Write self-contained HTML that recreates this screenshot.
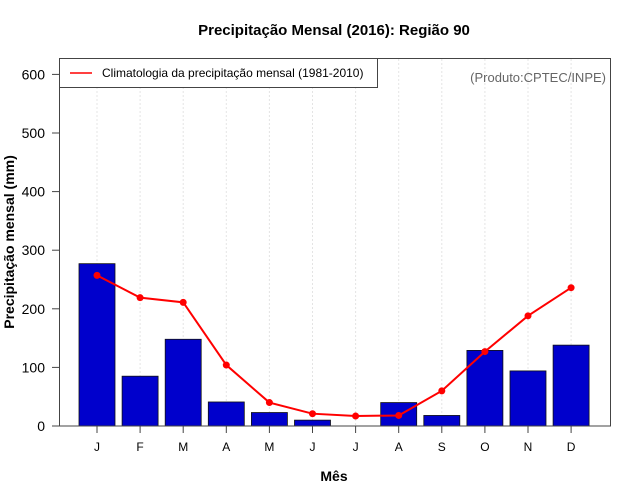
<!DOCTYPE html>
<html><head><meta charset="utf-8"><style>
body{margin:0;background:#fff}
svg{display:block;font-family:"Liberation Sans",sans-serif}
</style></head><body>
<svg id="chart" width="640" height="500" viewBox="0 0 640 500">
<text x="334" y="35" text-anchor="middle" font-size="15" font-weight="bold">Precipitação Mensal (2016): Região 90</text>
<g id="grid"></g>
<g id="bars"></g>
<g id="line"></g>
<g id="axes"></g>
<rect x="59.5" y="58.5" width="551" height="367.5" fill="none" stroke="#444" stroke-width="1"/>
<g>
<rect x="59.5" y="58.5" width="318" height="29" fill="#fff" stroke="#444"/>
<line x1="70" y1="73" x2="92" y2="73" stroke="red" stroke-width="1.5"/>
<text x="102" y="77" font-size="12">Climatologia da precipitação mensal (1981-2010)</text>
</g>
<text x="606" y="82" text-anchor="end" font-size="13" fill="#666">(Produto:CPTEC/INPE)</text>
<text x="334" y="481" text-anchor="middle" font-size="14" font-weight="bold">Mês</text>
<text transform="translate(14,242) rotate(-90)" text-anchor="middle" font-size="14" font-weight="bold">Precipitação mensal (mm)</text>
</svg>
<script>
const months = ["J","F","M","A","M","J","J","A","S","O","N","D"];
const observed = [277, 85, 148, 41, 23, 10, 0, 40, 18, 129, 94, 138];
const climatology = [257, 219, 211, 104, 40, 21, 17, 18, 60, 127, 188, 236];
const yTicks = [0, 100, 200, 300, 400, 500, 600];
const NS = "http://www.w3.org/2000/svg";
const x = i => 97 + i * 43.1;
const y = v => 426 - v * 0.586;
function mk(tag, attrs, parent) {
  const e = document.createElementNS(NS, tag);
  for (const k in attrs) e.setAttribute(k, attrs[k]);
  document.getElementById(parent).appendChild(e);
  return e;
}
months.forEach((m, i) => {
  const g = mk("line", {x1: x(i), x2: x(i), y1: 59, y2: 426, stroke: "#e4e4e4", "stroke-dasharray": "2,2"}, "grid");
  
  
  const b = mk("rect", {x: x(i) - 18, y: y(observed[i]), width: 36, height: 426 - y(observed[i]), fill: "#0000cc", stroke: "#111", "stroke-width": 0.8}, "bars");
  
  
  const t = mk("line", {x1: x(i), x2: x(i), y1: 426, y2: 433, stroke: "#444"}, "axes");
  
  
  const l = mk("text", {x: x(i), y: 451, "text-anchor": "middle", "font-size": 12}, "axes");
  l.textContent = m;
  
  
});
const pl = mk("polyline", {points: climatology.map((v, i) => x(i) + "," + y(v)).join(" "), fill: "none", stroke: "red", "stroke-width": 2}, "line");


climatology.forEach((v, i) => {
  const c = mk("circle", {cx: x(i), cy: y(v), r: 3.5, fill: "red"}, "line");
  
  
});
yTicks.forEach(v => {
  const t = mk("line", {x1: 52, x2: 59, y1: y(v), y2: y(v), stroke: "#444"}, "axes");
  
  
  const l = mk("text", {x: 45, y: y(v) + 5, "text-anchor": "end", "font-size": 14}, "axes");
  l.textContent = v;
  
  
});
</script>
</body></html>
